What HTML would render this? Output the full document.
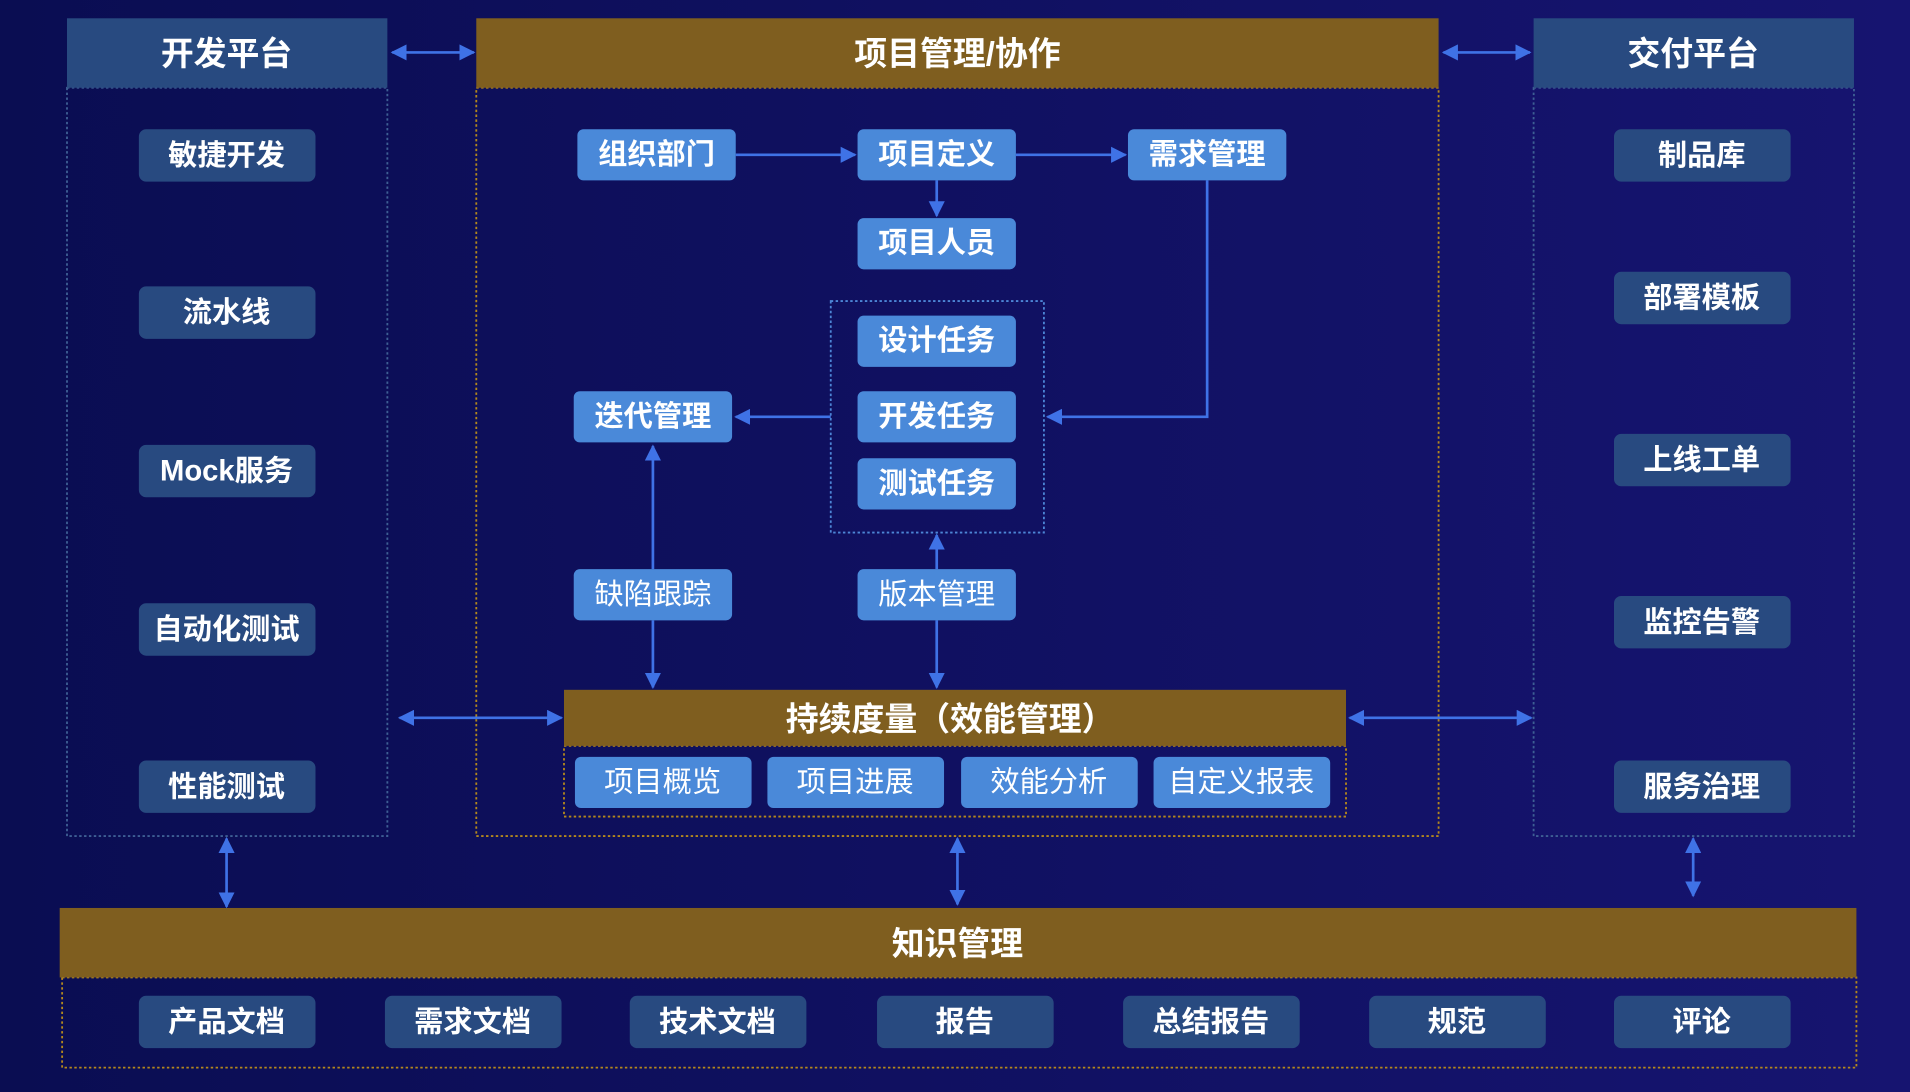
<!DOCTYPE html>
<html><head><meta charset="utf-8"><style>
html,body{margin:0;padding:0;background:#0d0f58;overflow:hidden}
svg{display:block}
text{font-family:"Liberation Sans","Noto Sans CJK SC",sans-serif;fill:#fff;text-anchor:middle;dominant-baseline:central}
.b{font-weight:bold}
</style></head><body>
<svg width="1910" height="1092" viewBox="0 0 1568 896" preserveAspectRatio="none" xmlns="http://www.w3.org/2000/svg">
<defs>
<linearGradient id="bg" x1="0" x2="1" y1="0" y2="0"><stop offset="0" stop-color="#0a0d52"/><stop offset="1" stop-color="#161470"/></linearGradient>
<marker id="ah" viewBox="0 0 10 10" refX="9" refY="5" markerWidth="6" markerHeight="6" orient="auto-start-reverse"><path d="M0,0L10,5L0,10z" fill="#3f72e6"/></marker>
</defs>
<rect width="1568" height="896" fill="url(#bg)"/>
<g fill="none" stroke-dasharray="2 2" stroke-width="1.5">
<rect x="55" y="72" width="263" height="614" stroke="#3e5f94"/>
<rect x="391" y="72" width="790" height="614" stroke="#b4881c"/>
<rect x="1259" y="72" width="263" height="614" stroke="#3e5f94"/>
<rect x="682" y="247" width="175" height="190" stroke="#4d86d6"/>
<rect x="463" y="612" width="642" height="58" stroke="#b4881c"/>
<rect x="51" y="802" width="1473" height="74" stroke="#b4881c"/>
</g>
<rect x="55" y="15" width="263" height="57" fill="#284a80"/>
<rect x="391" y="15" width="790" height="57" fill="#7f5e1f"/>
<rect x="1259" y="15" width="263" height="57" fill="#284a80"/>
<rect x="463" y="566" width="642" height="46" fill="#7f5e1f"/>
<rect x="49" y="745" width="1475" height="57" fill="#7f5e1f"/>
<text class="b" x="186" y="44" font-size="27">开发平台</text>
<text class="b" x="786" y="44" font-size="27">项目管理/协作</text>
<text class="b" x="1390" y="44" font-size="27">交付平台</text>
<text class="b" x="780" y="590" font-size="27">持续度量（效能管理）</text>
<text class="b" x="786" y="774" font-size="27">知识管理</text>
<g stroke="#3f72e6" stroke-width="2.2" fill="none" marker-end="url(#ah)">
<line x1="322" y1="43" x2="389" y2="43" marker-start="url(#ah)"/>
<line x1="1185" y1="43" x2="1256" y2="43" marker-start="url(#ah)"/>
<line x1="604" y1="127" x2="702" y2="127"/>
<line x1="834" y1="127" x2="924" y2="127"/>
<line x1="769" y1="148" x2="769" y2="177"/>
<polyline points="991,148 991,342 860,342"/>
<line x1="682" y1="342" x2="604" y2="342"/>
<line x1="536" y1="467" x2="536" y2="366"/>
<line x1="536" y1="509" x2="536" y2="564"/>
<line x1="769" y1="467" x2="769" y2="439"/>
<line x1="769" y1="509" x2="769" y2="564"/>
<line x1="328" y1="589" x2="461" y2="589" marker-start="url(#ah)"/>
<line x1="1108" y1="589" x2="1257" y2="589" marker-start="url(#ah)"/>
<line x1="186" y1="688" x2="186" y2="744" marker-start="url(#ah)"/>
<line x1="786" y1="688" x2="786" y2="742" marker-start="url(#ah)"/>
<line x1="1390" y1="688" x2="1390" y2="735" marker-start="url(#ah)"/>
</g>
<g font-size="24">
<g fill="#284a80">
<rect x="114" y="106" width="145" height="43" rx="6"/><rect x="114" y="235" width="145" height="43" rx="6"/><rect x="114" y="365" width="145" height="43" rx="6"/><rect x="114" y="495" width="145" height="43" rx="6"/><rect x="114" y="624" width="145" height="43" rx="6"/>
<rect x="1325" y="106" width="145" height="43" rx="6"/><rect x="1325" y="223" width="145" height="43" rx="6"/><rect x="1325" y="356" width="145" height="43" rx="6"/><rect x="1325" y="489" width="145" height="43" rx="6"/><rect x="1325" y="624" width="145" height="43" rx="6"/>
<rect x="114" y="817" width="145" height="43" rx="6"/><rect x="316" y="817" width="145" height="43" rx="6"/><rect x="517" y="817" width="145" height="43" rx="6"/><rect x="720" y="817" width="145" height="43" rx="6"/><rect x="922" y="817" width="145" height="43" rx="6"/><rect x="1124" y="817" width="145" height="43" rx="6"/><rect x="1325" y="817" width="145" height="43" rx="6"/>
</g>
<g fill="#4a89d9">
<rect x="474" y="106" width="130" height="42" rx="5"/><rect x="704" y="106" width="130" height="42" rx="5"/><rect x="926" y="106" width="130" height="42" rx="5"/><rect x="704" y="179" width="130" height="42" rx="5"/>
<rect x="704" y="259" width="130" height="42" rx="5"/><rect x="704" y="321" width="130" height="42" rx="5"/><rect x="704" y="376" width="130" height="42" rx="5"/>
<rect x="471" y="321" width="130" height="42" rx="5"/><rect x="471" y="467" width="130" height="42" rx="5"/><rect x="704" y="467" width="130" height="42" rx="5"/>
<rect x="472" y="621" width="145" height="42" rx="5"/><rect x="630" y="621" width="145" height="42" rx="5"/><rect x="789" y="621" width="145" height="42" rx="5"/><rect x="947" y="621" width="145" height="42" rx="5"/>
</g>
<g class="b">
<text x="186" y="128">敏捷开发</text><text x="186" y="257">流水线</text><text x="186" y="387">Mock服务</text><text x="186" y="517">自动化测试</text><text x="186" y="646">性能测试</text>
<text x="1397" y="128">制品库</text><text x="1397" y="245">部署模板</text><text x="1397" y="378">上线工单</text><text x="1397" y="511">监控告警</text><text x="1397" y="646">服务治理</text>
<text x="186" y="839">产品文档</text><text x="388" y="839">需求文档</text><text x="589" y="839">技术文档</text><text x="792" y="839">报告</text><text x="994" y="839">总结报告</text><text x="1196" y="839">规范</text><text x="1397" y="839">评论</text>
<text x="539" y="127">组织部门</text><text x="769" y="127">项目定义</text><text x="991" y="127">需求管理</text><text x="769" y="200">项目人员</text>
<text x="769" y="280">设计任务</text><text x="769" y="342">开发任务</text><text x="769" y="397">测试任务</text><text x="536" y="342">迭代管理</text>
</g>
<text x="536" y="488">缺陷跟踪</text><text x="769" y="488">版本管理</text>
<text x="544" y="642">项目概览</text><text x="702" y="642">项目进展</text><text x="861" y="642">效能分析</text><text x="1019" y="642">自定义报表</text>
</g>
</svg>
</body></html>
